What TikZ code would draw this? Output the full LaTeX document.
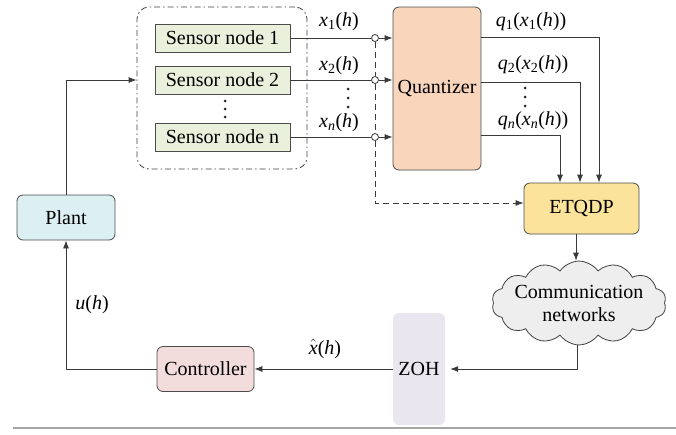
\documentclass[tikz,border=0pt]{standalone}
\usepackage{fontspec}
\setmainfont{Liberation Serif}
\usetikzlibrary{arrows.meta,shapes.symbols}
\definecolor{sensorfill}{HTML}{E9F0DC}
\definecolor{quantfill}{HTML}{F9D5BC}
\definecolor{etqfill}{HTML}{FBE39B}
\definecolor{plantfill}{HTML}{DCEFF3}
\definecolor{ctrlfill}{HTML}{F3DCDC}
\definecolor{zohfill}{HTML}{E9E6EF}
\definecolor{cloudfill}{HTML}{EEEEEE}
\definecolor{linecol}{HTML}{3A3A3A}
\newcommand\mi[1]{\textit{#1}}
\newcommand\sbs[1]{\textsubscript{#1}}
\begin{document}
\begin{tikzpicture}[x=1pt,y=-1pt,
  font=\fontsize{20}{23}\selectfont,
  box/.style={draw=black!70, line width=0.8pt, rounded corners=6pt, inner sep=0pt, align=center},
  conn/.style={draw=linecol, line width=0.8pt},
  arr/.style={conn, -{Latex[length=8pt,width=6pt]}},
  lab/.style={inner sep=0pt},
  smalldot/.style={fill=black!85, circle, inner sep=0pt, minimum size=3pt},
  junction/.style={circle, draw=linecol, line width=0.8pt, fill=white, minimum size=7pt, inner sep=0pt}
]
\useasboundingbox (0,0) rectangle (676,434);

% group box
\node[draw=black!75, line width=0.8pt, rounded corners=12pt,
  dash pattern=on 6pt off 3pt on 1.5pt off 3pt,
  minimum width=170pt, minimum height=162pt] (grp) at (222,88) {};

% sensor nodes
\node[box, rounded corners=0pt, fill=sensorfill, minimum width=135pt, minimum height=28pt] (s1) at (222.5,38) {Sensor node 1};
\node[box, rounded corners=0pt, fill=sensorfill, minimum width=135pt, minimum height=28pt] (s2) at (222.5,80) {Sensor node 2};
\node[box, rounded corners=0pt, fill=sensorfill, minimum width=135pt, minimum height=28pt] (sn) at (222.5,137) {Sensor node n};
\node[smalldot] (sd1) at (225,101) {};
\node[smalldot] (sd2) at (225,109) {};
\node[smalldot] (sd3) at (225,117) {};

% junctions
\node[junction] (c1) at (375,38) {};
\node[junction] (c2) at (375,80) {};
\node[junction] (cn) at (375,137) {};

% quantizer
\node[box, fill=quantfill, minimum width=88pt, minimum height=163pt] (quant) at (437,88.5) {Quantizer};

% ETQDP
\node[box, fill=etqfill, minimum width=115pt, minimum height=51pt] (etq) at (581.5,208.5) {ETQDP};

% cloud
\node[cloud, draw=black!75, line width=0.8pt, fill=cloudfill, cloud puffs=14, cloud puff arc=110,
  aspect=2.6, inner sep=-4pt, align=center, minimum width=174pt, minimum height=68pt] (cloud) at (579,303)
  {Communication\\networks};

% ZOH
\node[rounded corners=6pt, fill=zohfill, minimum width=52pt, minimum height=112pt, inner sep=0pt] (zoh) at (419,369) {ZOH};

% controller
\node[box, fill=ctrlfill, minimum width=97pt, minimum height=45pt] (ctrl) at (205.5,369) {Controller};

% plant
\node[box, fill=plantfill, minimum width=98pt, minimum height=45pt] (plant) at (66,217.5) {Plant};

% labels
\node[lab] (lx1) at (339,22) {\mi{x}\sbs{1}(\mi{h})};
\node[lab] (lx2) at (339,66) {\mi{x}\sbs{2}(\mi{h})};
\node[lab] (lxn) at (339,123) {\mi{x}\sbs{\mi{n}}(\mi{h})};
\node[smalldot] (xd1) at (348,89) {};
\node[smalldot] (xd2) at (348,98) {};
\node[smalldot] (xd3) at (348,107) {};

\node[lab] (lq1) at (531,22) {\mi{q}\sbs{1}(\mi{x}\sbs{1}(\mi{h}))};
\node[lab] (lq2) at (533,65) {\mi{q}\sbs{2}(\mi{x}\sbs{2}(\mi{h}))};
\node[lab] (lqn) at (533,121) {\mi{q}\sbs{\mi{n}}(\mi{x}\sbs{\mi{n}}(\mi{h}))};
\node[smalldot] (qd1) at (525,88) {};
\node[smalldot] (qd2) at (525,97) {};
\node[smalldot] (qd3) at (525,106) {};

\node[lab] (lu) at (92,305) {\mi{u}(\mi{h})};
\node[lab] (lxh) at (325,349) {$\hat{\mbox{\mi{x}}}$(\mi{h})};

% connectors: sensors -> junctions -> quantizer
\draw[conn] (s1.east) -- (c1.west);
\draw[conn] (s2.east) -- (c2.west);
\draw[conn] (sn.east) -- (cn.west);
\draw[arr] (c1.east) -- (c1.east -| quant.west);
\draw[arr] (c2.east) -- (c2.east -| quant.west);
\draw[arr] (cn.east) -- (cn.east -| quant.west);

% dashed tap
\coordinate (dq) at ([yshift=5.5pt]etq.west);
\draw[conn, dash pattern=on 6pt off 4pt] (c1.south) -- (c2.north);
\draw[conn, dash pattern=on 6pt off 4pt] (c2.south) -- (cn.north);
\draw[arr, dash pattern=on 6pt off 4pt] (cn.south) |- (dq);

% quantizer outputs
\coordinate (qo1) at ([yshift=51.5pt]quant.east);
\coordinate (qo2) at ([yshift=6.5pt]quant.east);
\coordinate (qon) at ([yshift=-46.5pt]quant.east);
\coordinate (ei1) at ([xshift=17.5pt]etq.north);
\coordinate (ei2) at ([xshift=-1.5pt]etq.north);
\coordinate (ein) at ([xshift=-21.5pt]etq.north);
\draw[arr] (qo1) -| (ei1);
\draw[arr] (qo2) -| (ei2);
\draw[arr] (qon) -| (ein);

% ETQDP -> cloud
\coordinate (eo) at ([xshift=-5.5pt]etq.south);
\draw[arr] (eo) -- (eo |- cloud.north);

% cloud -> ZOH
\coordinate (co) at ([xshift=-2pt]cloud.south);
\coordinate (zi) at ([xshift=5pt]zoh.east);
\draw[arr] (co) |- (zi);

% ZOH -> controller
\draw[arr] (zoh.west) -- (ctrl.east);

% controller -> plant
\draw[arr] (ctrl.west) -| (plant.south);

% plant -> sensors
\coordinate (gi) at ([yshift=8pt]grp.west);
\draw[arr] (plant.north) |- (gi);

% bottom rule
\coordinate (r1) at (13,428);
\coordinate (r2) at (676,428);
\draw[black!35, line width=1.2pt] (r1) -- (r2);
\end{tikzpicture}
\end{document}
